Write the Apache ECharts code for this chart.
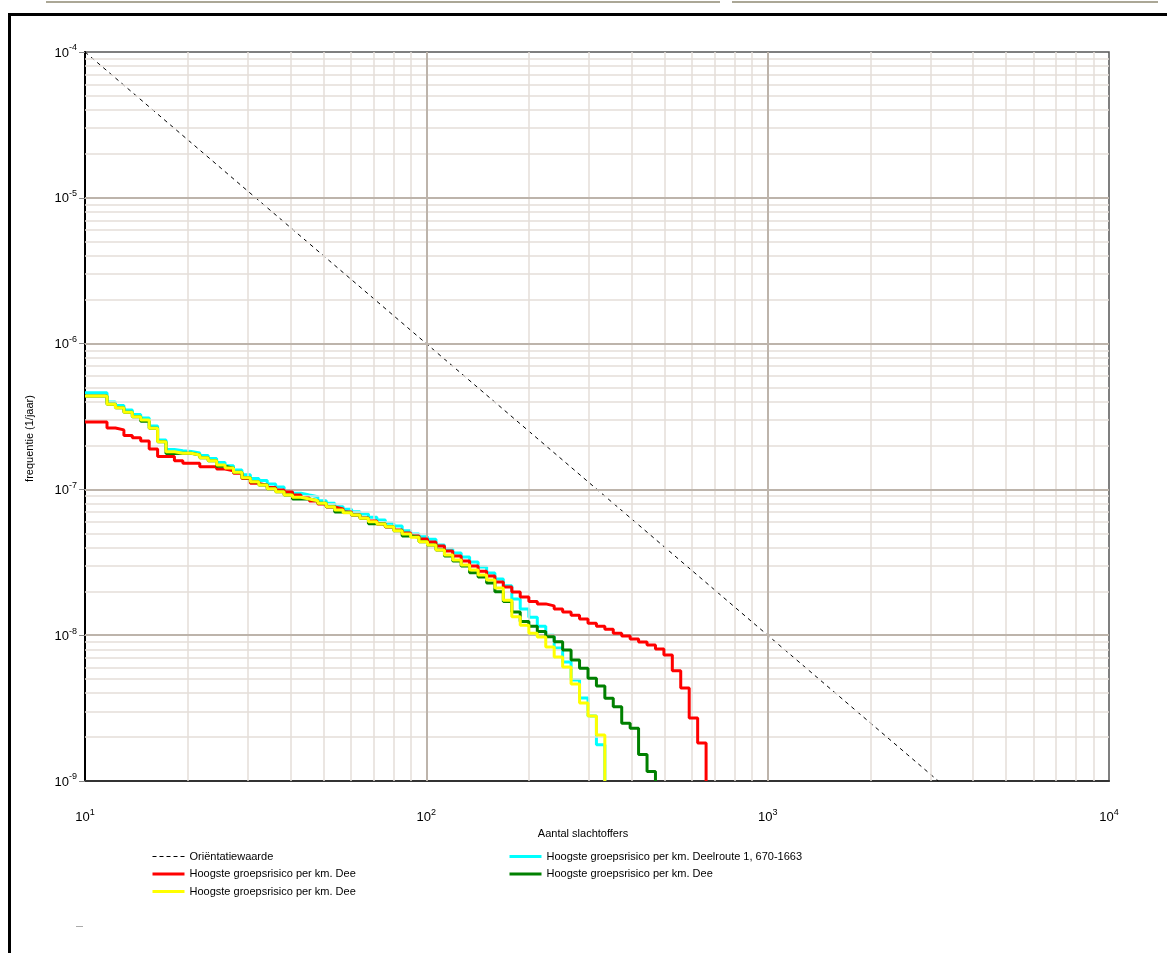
<!DOCTYPE html>
<html><head><meta charset="utf-8">
<script src="https://cdn.jsdelivr.net/npm/echarts@6/dist/echarts.min.js"></script>
<style>html,body{margin:0;padding:0;background:#fff}#c{width:1167px;height:953px}</style>
</head><body><div id="c"></div><script>
// ---- tick labels ----
const xTickExponents = [1, 2, 3, 4];
const yTickExponents = [-9, -8, -7, -6, -5, -4];
const minorMultipliers = [2, 3, 4, 5, 6, 7, 8, 9];

// ---- series names ----
const nameOrient = 'Oriëntatiewaarde';
const nameCyan = 'Hoogste groepsrisico per km. Deelroute 1, 670-1663';
const nameRed = 'Hoogste groepsrisico per km. Dee';
const nameGreen = 'Hoogste groepsrisico per km. Dee ';
const nameYellow = 'Hoogste groepsrisico per km. Dee  ';

// ---- shared N (x) positions of the steps ----
const nX = [
 11.60, 12.28, 13.00, 13.76, 14.56, 15.42, 16.32, 17.27, 18.28, 19.35,
 20.49, 21.69, 22.96, 24.30, 25.72, 27.23, 28.82, 30.51, 32.30, 34.19,
 36.19, 38.31, 40.55, 42.93, 45.44, 48.10, 50.92, 53.90, 57.05, 60.39,
 63.93, 67.67, 71.63, 75.83, 80.27, 84.96, 89.94, 95.20, 100.8, 106.7,
 113.0, 119.5, 126.5, 133.9, 141.8, 150.2, 158.8, 168.1, 178.0, 188.4,
 199.7, 211.4, 223.8, 236.9, 250.8, 265.5, 281.1, 297.6, 315.0, 333.4,
 352.9, 373.6, 395.5, 418.6, 443.2, 469.1, 496.6, 525.6, 556.3, 589.0,
 623.6, 660.1
];
const xStart = 10;

// ---- Oriëntatiewaarde ----
const orientX = [10, 3162];
const orientY = [1e-4, 1e-9];

// ---- FN curves: value at N=10, then value after each step in nX ----
const cyanStart = 4.60e-7;
const cyanSteps = [
 3.97e-7, 3.76e-7, 3.50e-7, 3.26e-7, 3.09e-7, 2.72e-7, 2.18e-7, 1.88e-7, 1.84e-7, 1.82e-7,
 1.78e-7, 1.71e-7, 1.63e-7, 1.53e-7, 1.45e-7, 1.36e-7, 1.26e-7, 1.19e-7, 1.15e-7, 1.09e-7,
 1.04e-7, 9.80e-8, 9.40e-8, 9.15e-8, 8.91e-8, 8.37e-8, 8.03e-8, 7.61e-8, 7.30e-8, 7.03e-8,
 6.78e-8, 6.43e-8, 6.17e-8, 5.85e-8, 5.61e-8, 5.21e-8, 4.95e-8, 4.74e-8, 4.55e-8, 4.16e-8,
 3.90e-8, 3.66e-8, 3.44e-8, 3.18e-8, 2.94e-8, 2.67e-8, 2.43e-8, 2.18e-8, 1.77e-8, 1.51e-8,
 1.33e-8, 1.15e-8, 1.00e-8, 8.17e-9, 6.55e-9, 4.93e-9, 3.71e-9, 2.79e-9, 1.77e-9
];
const redStart = 2.90e-7;
const redSteps = [
 2.64e-7, 2.56e-7, 2.34e-7, 2.26e-7, 2.15e-7, 1.89e-7, 1.68e-7, 1.68e-7, 1.57e-7, 1.51e-7,
 1.51e-7, 1.43e-7, 1.43e-7, 1.38e-7, 1.34e-7, 1.29e-7, 1.19e-7, 1.10e-7, 1.07e-7, 1.03e-7,
 9.91e-8, 9.60e-8, 9.15e-8, 8.73e-8, 8.33e-8, 7.94e-8, 7.57e-8, 7.34e-8, 7.00e-8, 6.67e-8,
 6.36e-8, 6.07e-8, 5.79e-8, 5.52e-8, 5.27e-8, 5.02e-8, 4.79e-8, 4.57e-8, 4.36e-8, 4.09e-8,
 3.78e-8, 3.49e-8, 3.23e-8, 2.98e-8, 2.75e-8, 2.55e-8, 2.32e-8, 2.14e-8, 1.98e-8, 1.83e-8,
 1.70e-8, 1.64e-8, 1.59e-8, 1.51e-8, 1.44e-8, 1.37e-8, 1.29e-8, 1.21e-8, 1.15e-8, 1.10e-8,
 1.03e-8, 9.87e-9, 9.42e-9, 8.98e-9, 8.57e-9, 8.04e-9, 7.32e-9, 5.71e-9, 4.34e-9, 2.70e-9,
 1.82e-9
];
const greenStart = 4.37e-7;
const greenSteps = [
 3.83e-7, 3.63e-7, 3.38e-7, 3.15e-7, 2.93e-7, 2.63e-7, 2.12e-7, 1.76e-7, 1.77e-7, 1.77e-7,
 1.72e-7, 1.65e-7, 1.57e-7, 1.44e-7, 1.40e-7, 1.31e-7, 1.20e-7, 1.13e-7, 1.07e-7, 1.01e-7,
 9.64e-8, 9.15e-8, 8.60e-8, 8.60e-8, 8.37e-8, 8.03e-8, 7.61e-8, 7.00e-8, 6.92e-8, 6.67e-8,
 6.33e-8, 5.82e-8, 5.79e-8, 5.55e-8, 5.21e-8, 4.80e-8, 4.69e-8, 4.38e-8, 4.16e-8, 3.84e-8,
 3.49e-8, 3.23e-8, 2.98e-8, 2.68e-8, 2.51e-8, 2.28e-8, 1.99e-8, 1.70e-8, 1.44e-8, 1.24e-8,
 1.15e-8, 1.06e-8, 9.77e-9, 9.02e-9, 7.92e-9, 6.76e-9, 5.93e-9, 5.06e-9, 4.48e-9, 3.69e-9,
 3.23e-9, 2.49e-9, 2.30e-9, 1.52e-9, 1.16e-9
];
const yellowStart = 4.37e-7;
const yellowSteps = [
 3.83e-7, 3.63e-7, 3.38e-7, 3.15e-7, 2.99e-7, 2.63e-7, 2.12e-7, 1.81e-7, 1.77e-7, 1.77e-7,
 1.72e-7, 1.65e-7, 1.57e-7, 1.47e-7, 1.40e-7, 1.31e-7, 1.20e-7, 1.13e-7, 1.07e-7, 1.01e-7,
 9.64e-8, 9.15e-8, 8.83e-8, 8.60e-8, 8.37e-8, 8.03e-8, 7.61e-8, 7.22e-8, 6.92e-8, 6.67e-8,
 6.33e-8, 6.00e-8, 5.79e-8, 5.55e-8, 5.21e-8, 4.95e-8, 4.69e-8, 4.38e-8, 4.16e-8, 3.84e-8,
 3.55e-8, 3.28e-8, 3.03e-8, 2.80e-8, 2.59e-8, 2.39e-8, 2.11e-8, 1.74e-8, 1.34e-8, 1.17e-8,
 1.03e-8, 9.72e-9, 8.30e-9, 7.09e-9, 6.05e-9, 4.63e-9, 3.43e-9, 2.79e-9, 2.07e-9
];

const yMin = 1e-9, yMax = 1e-4, xMin = 10, xMax = 10000;

function stepData(start, steps) {
  const d = [[xStart, start]];
  steps.forEach((v, i) => d.push([nX[i], v]));
  d.push([nX[steps.length], yMin]);
  return d;
}

// grid lines (minor at 2..9 x decade, major at decades)
const minorCol = '#E4DED8', majorCol = '#BDB4AB';
const minorStyle = { color: minorCol, width: 1.5, type: 'solid' };
const majorStyle = { color: majorCol, width: 2, type: 'solid' };
const gridLines = [];
for (let e = xTickExponents[0]; e < xTickExponents[xTickExponents.length - 1]; e++)
  minorMultipliers.forEach(m => gridLines.push({ xAxis: m * Math.pow(10, e), lineStyle: minorStyle }));
for (let e = yTickExponents[0]; e < yTickExponents[yTickExponents.length - 1]; e++)
  minorMultipliers.forEach(m => gridLines.push({ yAxis: m * Math.pow(10, e), lineStyle: minorStyle }));
xTickExponents.slice(1, -1).forEach(e => gridLines.push({ xAxis: Math.pow(10, e), lineStyle: majorStyle }));
yTickExponents.slice(1, -1).forEach(e => gridLines.push({ yAxis: Math.pow(10, e), lineStyle: majorStyle }));

const FONT = 'Liberation Sans, Arial, sans-serif';
const powLabel = v => '{b|10}{s|' + Math.round(Math.log10(v)) + '}';
const richSup = {
  b: { fontSize: 13, fontFamily: FONT, color: '#000', verticalAlign: 'bottom', lineHeight: 15 },
  s: { fontSize: 9, fontFamily: FONT, color: '#000', verticalAlign: 'bottom', lineHeight: 15, padding: [0, 0, 7, 0] }
};

const legendCommon = {
  orient: 'vertical', itemWidth: 32, itemHeight: 10, itemGap: 6.5,
  itemStyle: { opacity: 0 },
  textStyle: { fontFamily: FONT, fontSize: 11, color: '#000' }
};
const thick = { width: 3 };

const chart = echarts.init(document.getElementById('c'), null, { renderer: 'canvas' });
chart.setOption({
  animation: false,
  backgroundColor: '#fff',
  grid: { left: 85, top: 52, right: 58, bottom: 172, show: true, borderColor: '#555', borderWidth: 1.5 },
  xAxis: {
    type: 'log', logBase: 10, min: xMin, max: xMax,
    name: 'Aantal slachtoffers', nameLocation: 'middle', nameGap: 45,
    nameTextStyle: { fontFamily: FONT, fontSize: 11, color: '#000', padding: [0, 28, 0, 0] },
    axisLine: { show: true, lineStyle: { color: '#333', width: 2 } },
    axisTick: { show: false },
    splitLine: { show: false },
    axisLabel: { margin: 28, formatter: powLabel, rich: richSup }
  },
  yAxis: {
    type: 'log', logBase: 10, min: yMin, max: yMax,
    name: 'frequentie (1/jaar)', nameLocation: 'middle', nameGap: 50, nameRotate: 90,
    nameTextStyle: { fontFamily: FONT, fontSize: 11, color: '#000', padding: [0, 44, 0, 0] },
    axisLine: { show: true, lineStyle: { color: '#000', width: 2 } },
    axisTick: { show: true, length: 6, inside: false, lineStyle: { color: '#888' } },
    splitLine: { show: false },
    axisLabel: { margin: 8, formatter: powLabel, rich: richSup }
  },
  legend: [
    Object.assign({ left: 146, top: 846, data: [
      { name: nameOrient, lineStyle: { width: 1, type: [4, 3] } },
      { name: nameRed, lineStyle: thick },
      { name: nameYellow, lineStyle: thick }
    ] }, legendCommon),
    Object.assign({ left: 503, top: 846, data: [
      { name: nameCyan, lineStyle: thick },
      { name: nameGreen, lineStyle: thick }
    ] }, legendCommon)
  ],
  graphic: [
    { type: 'rect', shape: { x: 46, y: 1, width: 674, height: 2 }, style: { fill: '#ABA796' }, silent: true },
    { type: 'rect', shape: { x: 732, y: 1, width: 426, height: 2 }, style: { fill: '#ABA796' }, silent: true },
    { type: 'rect', shape: { x: 8, y: 13, width: 1159, height: 3 }, style: { fill: '#000' }, silent: true },
    { type: 'rect', shape: { x: 8, y: 13, width: 3, height: 940 }, style: { fill: '#000' }, silent: true },
    { type: 'rect', shape: { x: 76, y: 926, width: 7, height: 1 }, style: { fill: '#AAA' }, silent: true }
  ],
  series: [
    {
      name: 'gridlines', type: 'line', data: [[xMin, yMin]], z: 1, silent: true, symbol: 'none',
      lineStyle: { opacity: 0 },
      markLine: { silent: true, precision: 15, symbol: ['none', 'none'], label: { show: false },
        animation: false, lineStyle: { type: 'solid' }, data: gridLines }
    },
    {
      name: nameOrient, type: 'line', z: 3, symbol: 'none', silent: true,
      data: orientX.map((x, i) => [x, orientY[i]]),
      lineStyle: { color: '#000', width: 1, type: [4, 4] }, itemStyle: { color: '#000' }
    },
    { name: nameCyan, type: 'line', step: 'end', z: 4, symbol: 'none', data: stepData(cyanStart, cyanSteps),
      lineStyle: { color: '#00FFFF', width: 3 }, itemStyle: { color: '#00FFFF' } },
    { name: nameRed, type: 'line', step: 'end', z: 5, symbol: 'none', data: stepData(redStart, redSteps),
      lineStyle: { color: '#FF0000', width: 3 }, itemStyle: { color: '#FF0000' } },
    { name: nameGreen, type: 'line', step: 'end', z: 6, symbol: 'none', data: stepData(greenStart, greenSteps),
      lineStyle: { color: '#008000', width: 3 }, itemStyle: { color: '#008000' } },
    { name: nameYellow, type: 'line', step: 'end', z: 7, symbol: 'none', data: stepData(yellowStart, yellowSteps),
      lineStyle: { color: '#FFFF00', width: 3 }, itemStyle: { color: '#FFFF00' } }
  ]
});
</script></body></html>
